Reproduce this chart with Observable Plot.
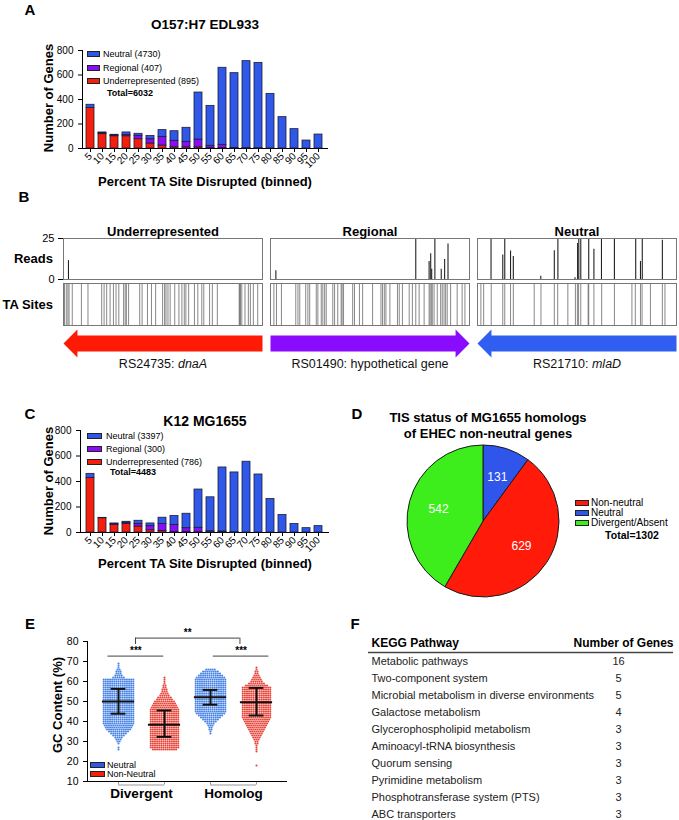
<!DOCTYPE html>
<html><head><meta charset="utf-8">
<script src="https://cdn.jsdelivr.net/npm/d3@7"></script>
<script src="https://cdn.jsdelivr.net/npm/@observablehq/plot@0.6"></script>
<style>
body{margin:0;background:#fff;}
#fig{position:relative;width:679px;height:820px;overflow:hidden;font-family:"Liberation Sans",Arial,Helvetica,sans-serif;color:#000;}
</style></head><body><div id="fig"></div>
<script>
// ---------------- DATA ----------------
const binsTA = [5,10,15,20,25,30,35,40,45,50,55,60,65,70,75,80,85,90,95,100];
const underA    = [330,117,100,100,76,41,24,10,10,10,5,3,2,1,1,0,0,0,0,0];
const regionalA = [0,8,5,10,25,35,71,53,44,63,17,27,3,2,1,0,0,0,0,0];
const neutralA  = [27,6,7,21,19,27,55,78,115,384,326,629,610,710,697,446,256,158,65,114];
const legendA = ["Neutral (4730)","Regional (407)","Underrepresented (895)"];
const totalA = "Total=6032";

const underC    = [428,112,58,66,47,18,13,5,5,3,2,2,1,0,0,0,0,0,0,0];
const regionalC = [0,0,8,10,19,32,53,55,29,34,8,6,1,0,0,0,0,0,0,0];
const neutralC  = [32,3,5,8,26,21,50,69,113,300,266,502,469,555,455,263,137,66,34,50];
const legendC = ["Neutral (3397)","Regional (300)","Underrepresented (786)"];
const totalC = "Total=4483";

const geneClasses = ["Underrepresented","Regional","Neutral"];
const readsUnder    = [[2.5,11.5]];
const readsRegional = [[2.7,5.3],[73,25],[79.7,11],[80.5,15.7],[81,6.3],[82.6,25],[85.8,6.3],[87.5,12.2],[89.2,21.6]];
const readsNeutral  = [[6.8,25],[12.7,15],[13.7,25],[16.6,17.4],[18,14],[31.8,2],[38.6,17.6],[40.4,25],[49,1],[50.3,22],[50.9,25],[51.9,25],[55.9,25],[58.5,18.4],[62.3,25],[68.8,25],[79.5,25],[81.9,11],[82.8,25],[92.9,24]];
const taUnder = [0.5,1.4,2.2,2.8,4.4,9.0,12.3,19.2,20.4,21.7,23.4,25.1,26.4,27.8,30.2,31.0,31.6,32.7,38.3,39.5,42.2,44.2,46.3,49.8,50.8,51.5,52.5,53.6,55.9,58.0,59.5,60.7,61.5,62.9,65.8,67.5,69.5,70.5,73.4,74.8,77.3,88.3,88.6,88.9,89.6,91.2,92.9,93.9,95.4,97.6];
const taRegional = [1.7,3,5.5,12.7,13.8,14.7,17.7,18.8,19.7,23,23.8,25.5,26.3,27.2,28,31.3,32.2,33.8,35.5,36,36.7,41.3,42.2,44.7,46.3,51.3,55.5,56.3,57.2,58,60,63.8,64.7,66.3,69.7,71.3,73,74.7,77.2,79.7,80.2,80.8,81.3,82.2,83.8,85.5,86.3,87.2,88,88.8,90.5,93.8,96.3,97.7];
const taNeutral = [1.7,3.1,6.9,12.7,13.7,16.6,18,28.5,31.9,38.6,40.3,45.4,49.2,50.2,50.8,51.9,55.6,55.9,58.5,62.4,68.8,77.6,79.3,81.9,82.7,86.9,92.9,94.2];
const arrowGenes = [
  {cls:"Underrepresented", id:"RS24735", name:"dnaA", italic:true, strand:-1},
  {cls:"Regional", id:"RS01490", name:"hypothetical gene", italic:false, strand:1},
  {cls:"Neutral", id:"RS21710", name:"mlaD", italic:true, strand:-1}
];

const pieCats = ["Neutral","Non-neutral","Divergent/Absent"];
const pieCounts = [131,629,542];
const pieLegend = ["Non-neutral","Neutral","Divergent/Absent"];
const pieTotal = "Total=1302";

const groupsE = ["Divergent Neutral","Divergent Non-Neutral","Homolog Neutral","Homolog Non-Neutral"];
const gcStartE = [26,26,34,18];
const countsDivNeutral = [1,1,0,1,2,3,4,6,8,10,12,13,14,15,15,15,15,15,15,15,15,15,15,15,15,15,15,15,15,15,15,15,15,15,15,15,6,4,3,3,2,1,1,1];
const countsDivNonNeutral = [12,14,14,14,14,14,14,14,14,14,14,14,14,14,14,14,14,14,14,14,14,13,12,11,10,8,7,5,4,3,3,2,2,1,1,1,1];
const countsHomNeutral = [1,1,2,2,3,4,6,8,10,12,14,15,15,15,15,15,15,15,15,15,15,15,15,15,15,15,15,15,14,12,10,8,5];
const countsHomNonNeutral = [1,0,0,0,0,0,0,1,1,1,1,2,2,3,4,5,6,7,8,9,10,11,12,13,14,14,14,14,14,14,14,14,14,14,14,14,14,14,14,14,11,8,6,5,4,3,2,2,1,1];
const meanE = [50,38.4,52.1,49.6];
const sdLowE = [43.9,32.3,48.4,43];
const sdHighE = [56.3,45.5,55.8,56.8];
const categoriesE = ["Divergent","Homolog"];
const comparisonsE = [
  {x1:-0.23, x2:0.985, y:72.7, label:"***"},
  {x1:2.06, x2:3.27, y:72.7, label:"***"},
  {x1:0.37, x2:2.64, y:81.7, drop:78.5, label:"**"}
];
const legendE = ["Neutral","Non-Neutral"];

const keggPathways = ["Metabolic pathways","Two-component system","Microbial metabolism in diverse environments","Galactose metabolism","Glycerophospholipid metabolism","Aminoacyl-tRNA biosynthesis","Quorum sensing","Pyrimidine metabolism","Phosphotransferase system (PTS)","ABC transporters"];
const keggGenes = [16,5,5,4,3,3,3,3,3,3];
const keggHeader = ["KEGG Pathway","Number of Genes"];

// ---------------- STYLE ----------------
const FONT = '"Liberation Sans", Arial, Helvetica, sans-serif';
const RED = "#f41f0c", PURPLE = "#8b0cf7", BLUE = "#2f58e8";
const catColors = [RED, PURPLE, BLUE];
const arrowColors = {"Underrepresented":"#ff1a05","Regional":"#8a0cff","Neutral":"#2f5ef0"};
const pieColors = {"Neutral":"#2f55ea","Non-neutral":"#ff1a0a","Divergent/Absent":"#3eee1c"};
const dotColors = ["#4a85e6","#e8453a","#4a85e6","#e8453a"];
const baseStyle = {fontFamily: FONT, fontSize: "10px", color: "#000", background: "none", overflow: "visible"};

const fig = document.getElementById("fig");
function addPlot(svg, left, top) {
  const w = document.createElement("div");
  w.style.cssText = `position:absolute;left:${left}px;top:${top}px;`;
  w.appendChild(svg); fig.appendChild(w); return svg;
}
function addText(s, x, y, o = {}) {
  const d = document.createElement("div");
  d.textContent = s;
  const size = o.size ?? 13, weight = o.weight ?? "bold", anchor = o.anchor ?? "middle";
  const tx = anchor === "middle" ? "-50%" : anchor === "end" ? "-100%" : "0%";
  d.style.cssText = `position:absolute;left:${x}px;top:${y}px;font-size:${size}px;font-weight:${weight};white-space:nowrap;line-height:1;color:${o.color ?? "#000"};transform:translate(${tx},-50%)${o.rotate ? ` rotate(${o.rotate}deg)` : ""};`;
  fig.appendChild(d);
}
function addSwatch(x, y, w, h, color) {
  const d = document.createElement("div");
  d.style.cssText = `position:absolute;left:${x}px;top:${y - h/2}px;width:${w}px;height:${h}px;background:${color};border:1px solid #222;box-sizing:border-box;`;
  fig.appendChild(d);
}

// ---------------- PANELS A & C ----------------
function stackedBars(under, regional, neutral, m) {
  const rows = [];
  binsTA.forEach((b, i) => {
    [[geneClasses[0], under[i]], [geneClasses[1], regional[i]], [geneClasses[2], neutral[i]]].forEach(([c, n]) => {
      if (n > 0) rows.push({bin: b, cat: c, n});
    });
  });
  return Plot.plot({
    width: 340, height: m.h, marginTop: m.t, marginBottom: m.b, marginLeft: m.l, marginRight: m.r,
    style: baseStyle,
    x: {type: "band", domain: binsTA, paddingInner: 0.33, paddingOuter: 0.2, label: null, tickRotate: -45, tickSize: 4, tickPadding: 2, line: true},
    y: {domain: [0, 800], ticks: [0, 200, 400, 600, 800], tickSize: 4, label: null, line: true},
    color: {domain: geneClasses, range: catColors},
    marks: [Plot.barY(rows, {x: "bin", y: "n", fill: "cat", stroke: "#1d1d35", strokeWidth: 0.8, order: geneClasses})]
  });
}
addPlot(stackedBars(underA, regionalA, neutralA, {h: 135, t: 10, b: 27, l: 82, r: 13}), 0, 40);
addPlot(stackedBars(underC, regionalC, neutralC, {h: 140, t: 10, b: 28, l: 80, r: 12}), 0, 420);

addText("A", 30, 9, {size: 15});
addText("O157:H7 EDL933", 205, 25, {size: 13.5});
addText("Percent TA Site Disrupted (binned)", 205, 181);
addText("Number of Genes", 48, 98, {rotate: -90});
legendA.forEach((l, i) => {
  const cols = [BLUE, PURPLE, RED], ys = [54, 68, 81];
  addSwatch(87, ys[i], 13, 6, cols[i]); addText(l, 103, ys[i], {size: 9, weight: "normal", anchor: "start"});
});
addText(totalA, 107, 93, {size: 9, anchor: "start"});

addText("C", 30, 413, {size: 15});
addText("K12 MG1655", 205, 421, {size: 14});
addText("Percent TA Site Disrupted (binned)", 205, 563);
addText("Number of Genes", 48, 481, {rotate: -90});
legendC.forEach((l, i) => {
  const cols = [BLUE, PURPLE, RED], ys = [436, 449, 462];
  addSwatch(87, ys[i], 15, 6, cols[i]); addText(l, 106, ys[i], {size: 9, weight: "normal", anchor: "start"});
});
addText(totalC, 110, 472, {size: 9, anchor: "start"});

// ---------------- PANEL B ----------------
const fxB = {domain: geneClasses, axis: null, paddingInner: 0.04, paddingOuter: 0};
const readsRows = [];
[readsUnder, readsRegional, readsNeutral].forEach((arr, k) => arr.forEach(([pos, h]) => readsRows.push({gene: geneClasses[k], pos, h})));
const taRows = [];
[taUnder, taRegional, taNeutral].forEach((arr, k) => arr.forEach(pos => taRows.push({gene: geneClasses[k], pos})));

addPlot(Plot.plot({
  width: 679, height: 70, marginTop: 28, marginBottom: 1, marginLeft: 62, marginRight: 3,
  style: {...baseStyle, fontSize: "11px"},
  fx: fxB, x: {domain: [0, 100], axis: null},
  y: {domain: [0, 25], ticks: [0, 25], tickSize: 5, label: null},
  marks: [
    Plot.ruleX(readsRows, {fx: "gene", x: "pos", y1: 0, y2: "h", stroke: "#222", strokeWidth: 1.1}),
    Plot.frame({stroke: "#777"}),
    Plot.text(geneClasses, {fx: d => d, text: d => d, frameAnchor: "top", dy: -12, fontWeight: "bold", fontSize: 13})
  ]
}), 0, 210);

addPlot(Plot.plot({
  width: 679, height: 48, marginTop: 3, marginBottom: 3, marginLeft: 62, marginRight: 3,
  style: baseStyle,
  fx: fxB, x: {domain: [0, 100], axis: null}, y: {axis: null},
  marks: [
    Plot.ruleX(taRows, {fx: "gene", x: "pos", stroke: "#555", strokeOpacity: 0.7, strokeWidth: 1}),
    Plot.frame({stroke: "#777"})
  ]
}), 0, 280);

const HEAD = 7, BODY = 0.57;
const arrowShape = [[0,0],[HEAD,1],[HEAD,BODY],[100,BODY],[100,-BODY],[HEAD,-BODY],[HEAD,-1],[0,0]];
const arrowPts = [];
arrowGenes.forEach(g => arrowShape.forEach(([x, y]) => arrowPts.push({cls: g.cls, x: g.strand < 0 ? x : 100 - x, y, color: arrowColors[g.cls]})));
const arrowPlot = addPlot(Plot.plot({
  width: 679, height: 45, marginTop: 1, marginBottom: 16, marginLeft: 62, marginRight: 3,
  style: baseStyle,
  fx: fxB, x: {domain: [0, 100], axis: null}, y: {domain: [-1, 1], axis: null},
  marks: [
    Plot.line(arrowPts, {fx: "cls", x: "x", y: "y", z: "cls", fill: "color", stroke: "none", curve: "linear"}),
    Plot.text(arrowGenes, {fx: "cls", text: d => `${d.id}: ${d.name}`, y: -1, dy: 6, fontSize: 12.5, fill: "#111"})
  ]
}), 0, 328);
d3.select(arrowPlot).selectAll("text").each(function() {
  const t = this.textContent;
  const g = arrowGenes.find(g => t === `${g.id}: ${g.name}`);
  if (g && g.italic) {
    this.textContent = "";
    d3.select(this).append("tspan").text(g.id + ": ");
    d3.select(this).append("tspan").attr("font-style", "italic").text(g.name);
  }
});
addText("B", 24, 196, {size: 15});
addText("Reads", 53, 258, {anchor: "end"});
addText("TA Sites", 53, 304, {anchor: "end"});

// ---------------- PANEL D ----------------
const pieRows = pieCats.map((c, i) => ({cat: c, n: pieCounts[i]}));
addPlot(Plot.plot({
  width: 170, height: 165, margin: 0, style: baseStyle,
  marks: [
    (index, scales, values, dims) => {
      const g = d3.create("svg:g").attr("transform", `translate(${dims.width / 2},${82})`);
      const arcs = d3.pie().sort(null).value(d => d.n)(pieRows);
      const arc = d3.arc().innerRadius(0).outerRadius(76);
      const lab = d3.arc().innerRadius(46).outerRadius(46);
      g.selectAll("path").data(arcs).join("path").attr("d", arc)
        .attr("fill", d => pieColors[d.data.cat]).attr("stroke", "#1a1a1a").attr("stroke-width", 1);
      g.selectAll("text").data(arcs).join("text")
        .attr("transform", d => `translate(${lab.centroid(d)})`)
        .attr("text-anchor", "middle").attr("dy", "0.35em").attr("fill", "#fff")
        .attr("font-size", 12).text(d => d.data.n);
      return g.node();
    }
  ]
}), 398, 439);
addText("D", 357, 413, {size: 15});
addText("TIS status of MG1655 homologs", 488, 417);
addText("of EHEC non-neutral genes", 488, 433);
pieLegend.forEach((l, i) => {
  const ys = [503, 513, 523];
  addSwatch(575, ys[i], 14, 6, pieColors[l]);
  addText(l, 591, ys[i], {size: 10, weight: "normal", anchor: "start"});
});
addText(pieTotal, 632, 535, {size: 10.5});

// ---------------- PANEL E ----------------
const SP = 0.046;
const dotsE = [];
[countsDivNeutral, countsDivNonNeutral, countsHomNeutral, countsHomNonNeutral].forEach((counts, g) => {
  counts.forEach((n, k) => {
    for (let i = 0; i < n; i++) dotsE.push({x: g + (i - (n - 1) / 2) * SP, y: gcStartE[g] + k, c: dotColors[g]});
  });
});
const statsE = groupsE.map((name, g) => ({g, mean: meanE[g], lo: sdLowE[g], hi: sdHighE[g]}));
const dropsE = comparisonsE.filter(d => d.drop).flatMap(d => [{x: d.x1, y1: d.y, y2: d.drop}, {x: d.x2, y1: d.y, y2: d.drop}]);
const catE = categoriesE.map((name, k) => ({name, a: 2 * k, b: 2 * k + 1}));
const catTicksE = catE.flatMap(d => [d.a, d.b]);
addPlot(Plot.plot({
  width: 300, height: 170, marginTop: 11, marginBottom: 19, marginLeft: 87, marginRight: 13,
  style: {...baseStyle, fontSize: "10.5px"},
  x: {domain: [-0.674, 3.674], axis: null},
  y: {domain: [10, 80], ticks: [10, 20, 30, 40, 50, 60, 70, 80], tickSize: 4, label: null, line: true},
  marks: [
    Plot.dot(dotsE, {x: "x", y: "y", r: 1.05, fill: "c", stroke: "none"}),
    Plot.ruleY(statsE, {x1: d => d.g - 0.35, x2: d => d.g + 0.35, y: "mean", stroke: "#111", strokeWidth: 2}),
    Plot.ruleY(statsE, {x1: d => d.g - 0.16, x2: d => d.g + 0.16, y: "lo", stroke: "#111", strokeWidth: 2}),
    Plot.ruleY(statsE, {x1: d => d.g - 0.16, x2: d => d.g + 0.16, y: "hi", stroke: "#111", strokeWidth: 2}),
    Plot.ruleX(statsE, {x: "g", y1: "lo", y2: "hi", stroke: "#111", strokeWidth: 2}),
    Plot.ruleY(comparisonsE, {x1: "x1", x2: "x2", y: "y", stroke: "#444", strokeWidth: 1}),
    Plot.ruleX(dropsE, {x: "x", y1: "y1", y2: "y2", stroke: "#444", strokeWidth: 1}),
    Plot.text(comparisonsE, {x: d => (d.x1 + d.x2) / 2, y: "y", text: "label", dy: -5, fontSize: 10, fontWeight: "bold"}),
    Plot.ruleY(catE, {x1: "a", x2: "b", y: 10, dy: 3.5, stroke: "#999", strokeWidth: 1}),
    Plot.ruleX(catTicksE, {x: d => d, y1: 9.9, y2: 8.25, stroke: "#999", strokeWidth: 1}),
    Plot.ruleY([10], {stroke: "#000"}),
    Plot.text(catE, {x: d => (d.a + d.b) / 2, y: 10, dy: 12, text: "name", fontSize: 13.5, fontWeight: "bold"})
  ]
}), 0, 630);
addText("E", 30, 623, {size: 15});
addText("GC Content (%)", 57, 705, {rotate: -90});
legendE.forEach((l, i) => {
  const ys = [765, 774];
  addSwatch(90, ys[i], 15, 6, [BLUE, RED][i]);
  addText(l, 107, ys[i], {size: 9, weight: "normal", anchor: "start"});
});

// ---------------- PANEL F ----------------
const rowsF = keggPathways.map((p, i) => ({i, pathway: p, n: keggGenes[i]}));
addPlot(Plot.plot({
  width: 319, height: 192, marginLeft: 8, marginRight: 6, marginTop: 0, marginBottom: 0,
  style: baseStyle,
  x: {domain: [0, 1], axis: null},
  y: {domain: [-2, 10], range: [-3, 201], axis: null},
  marks: [
    Plot.text([keggHeader[0]], {text: d => d, y: -1.1, frameAnchor: "left", textAnchor: "start", dx: 3, fontWeight: "bold", fontSize: 12}),
    Plot.text([keggHeader[1]], {text: d => d, y: -1.1, frameAnchor: "right", textAnchor: "end", fontWeight: "bold", fontSize: 12}),
    Plot.ruleY([-0.53], {stroke: "#444", strokeWidth: 1.5}),
    Plot.text(rowsF, {y: "i", text: "pathway", frameAnchor: "left", textAnchor: "start", dx: 3, fontSize: 11, fill: "#222"}),
    Plot.text(rowsF, {y: "i", text: d => String(d.n), frameAnchor: "right", textAnchor: "middle", dx: -55, fontSize: 11, fill: "#222"})
  ]
}), 360, 630);
addText("F", 355, 623, {size: 15});
</script></body></html>
